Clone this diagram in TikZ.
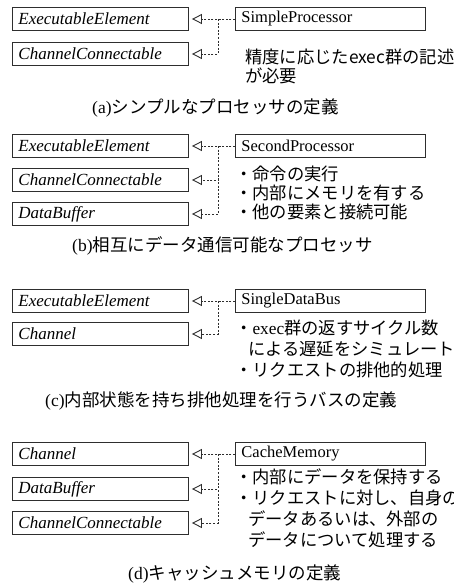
\documentclass[tikz,border=0pt]{standalone}
\usepackage{fontspec}
\setmainfont{Liberation Serif}
\newfontfamily\jp{Noto Sans CJK JP}
\usetikzlibrary{arrows.meta}
\definecolor{ln}{HTML}{2E2E2E}
\begin{document}
\begin{tikzpicture}[x=1pt,y=-1pt,
  lbox/.style={draw=ln, line width=0.9pt, fill=white, anchor=west, minimum height=23pt,
    text width=164pt, inner xsep=6pt, inner ysep=0pt, align=left,
    font=\fontsize{17}{18}\selectfont\itshape},
  rbox/.style={draw=ln, line width=0.9pt, fill=white, anchor=west, minimum height=23pt,
    text width=178pt, inner xsep=6pt, inner ysep=0pt, align=left,
    font=\fontsize{16.5}{18}\selectfont},
  dep/.style={draw=ln, line width=0.9pt, dash pattern=on 2pt off 1.6pt,
    -{Triangle[open,length=10pt,width=10pt,line width=0.9pt]}},
  txt/.style={anchor=west, inner sep=0pt, font=\jp\fontsize{17.3}{18}\selectfont},
  capt/.style={anchor=west, inner sep=0pt, font=\fontsize{17.5}{20}\selectfont}]
\useasboundingbox (0,0) rectangle (453,586);
% (a)
\node[lbox] (a1) at (12,19) {ExecutableElement};
\node[lbox] (a2) at (12,54) {ChannelConnectable};
\node[rbox] (ap) at (235,19) {SimpleProcessor};
\coordinate (aj) at (218,19);
\draw[dep] (ap.west) -- ([xshift=3pt]a1.east);
\draw[dep] (aj) |- ([xshift=3pt]a2.east);
\node[txt] (at1) at (245,57) {精度に応じたexec群の記述};
\node[txt] (at2) at (245,76) {が必要};
\node[capt] (ac) at (92,108) {(a){\jp シンプルなプロセッサの定義}};
% (b)
\node[lbox] (b1) at (12,146) {ExecutableElement};
\node[lbox] (b2) at (12,180) {ChannelConnectable};
\node[lbox] (b3) at (12,214) {DataBuffer};
\node[rbox] (bp) at (235,146) {SecondProcessor};
\coordinate (bj) at (218,146);
\draw[dep] (bp.west) -- ([xshift=3pt]b1.east);
\draw[dep] (bj) |- ([xshift=3pt]b2.east);
\draw[dep] (bj) |- ([xshift=3pt]b3.east);
\node[txt] (bt1) at (235,174) {・命令の実行};
\node[txt] (bt2) at (235,193) {・内部にメモリを有する};
\node[txt] (bt3) at (235,212) {・他の要素と接続可能};
\node[capt] (bc) at (72,246) {(b){\jp 相互にデータ通信可能なプロセッサ}};
% (c)
\node[lbox] (c1) at (12,301) {ExecutableElement};
\node[lbox] (c2) at (12,334) {Channel};
\node[rbox] (cp) at (235,301) {SingleDataBus};
\coordinate (cj) at (218,301);
\draw[dep] (cp.west) -- ([xshift=3pt]c1.east);
\draw[dep] (cj) |- ([xshift=3pt]c2.east);
\node[txt] (ct1) at (235,328) {・{\rmfamily exec}群の返すサイクル数};
\node[txt] (ct2) at (248,349) {による遅延をシミュレート};
\node[txt] (ct3) at (235,370) {・リクエストの排他的処理};
\node[capt] (cc) at (45,401) {(c){\jp 内部状態を持ち排他処理を行うバスの定義}};
% (d)
\node[lbox] (d1) at (12,454) {Channel};
\node[lbox] (d2) at (12,489) {DataBuffer};
\node[lbox] (d3) at (12,523) {ChannelConnectable};
\node[rbox] (dp) at (235,454) {CacheMemory};
\coordinate (dj) at (218,454);
\draw[dep] (dp.west) -- ([xshift=3pt]d1.east);
\draw[dep] (dj) |- ([xshift=3pt]d2.east);
\draw[dep] (dj) |- ([xshift=3pt]d3.east);
\node[txt] (dt1) at (235,477) {・内部にデータを保持する};
\node[txt] (dt2) at (235,498) {・リクエストに対し、自身の};
\node[txt] (dt3) at (248,519) {データあるいは、外部の};
\node[txt] (dt4) at (248,540) {データについて処理する};
\node[capt] (dc) at (128,574) {(d){\jp キャッシュメモリの定義}};
\end{tikzpicture}
\end{document}
